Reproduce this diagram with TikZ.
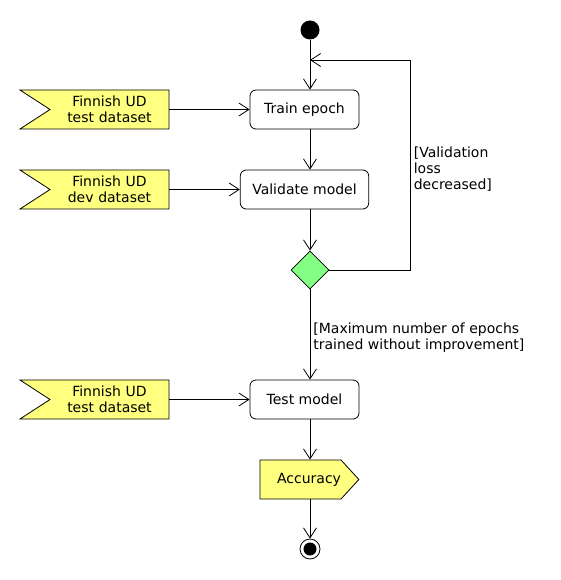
\documentclass[tikz,border=0pt]{standalone}
\usepackage{fontspec}
\setmainfont{DejaVu Sans}
\usepackage{xcolor}
\usepackage{tikz}
\usetikzlibrary{shapes.geometric, shapes.symbols, arrows.meta, positioning}

\definecolor{notefill}{HTML}{FFFF80}
\definecolor{choicefill}{HTML}{84FF84}

\begin{document}
\begin{tikzpicture}[
    x=1pt, y=-1pt,
    line width=0.8pt,
    every node/.style={font=\fontsize{14}{16}\selectfont},
    activity/.style={rectangle, rounded corners=6pt, draw, fill=white, minimum width=109pt, minimum height=39pt, inner xsep=12pt, inner ysep=0pt},
    datain/.style={signal, signal from=west, signal to=nowhere, signal pointer angle=66, draw, fill=notefill, text width=119pt, inner xsep=0pt, inner ysep=0pt, minimum height=39pt, align=center},
    dataout/.style={signal, signal to=east, signal from=nowhere, signal pointer angle=95, draw, fill=notefill, text width=81pt, inner xsep=0pt, inner ysep=0pt, minimum height=39pt, align=right},
    decision/.style={diamond, draw, fill=choicefill, minimum size=38pt, inner sep=0pt},
    startdot/.style={circle, fill=black, minimum size=19pt, inner sep=0pt},
    enddot/.style={circle, draw, fill=white, minimum size=20pt, inner sep=0pt, path picture={\fill[black] (path picture bounding box.center) circle (6.5pt);}},
    guard/.style={align=left, inner sep=3pt},
    arrow/.style={-{Straight Barb[length=10pt, width=13pt]}},
]
\useasboundingbox (0,0) rectangle (560,580);

\node[startdot] (start) at (310,30) {};
\coordinate (merge) at (310,60);
\node[activity] (train) at (304.5,109.5) {Train epoch};
\node[activity] (validate) at (304.5,189.5) {Validate model};
\node[decision] (check) at (310,270) {};
\node[activity] (test) at (304.5,399.5) {Test model};
\node[dataout] (accuracy) at (300.5,479.5) {Accuracy};
\node[enddot] (stop) at (310,549) {};

\node[datain] (traindata) at (109.5,109.5) {Finnish UD\\test dataset};
\node[datain] (devdata) at (109.5,189.5) {Finnish UD\\dev dataset};
\node[datain] (testdata) at (109.5,399.5) {Finnish UD\\test dataset};

\draw[arrow] (start) -- (train.north -| start);
\draw[arrow] (train.south -| start) -- (validate.north -| start);
\draw[arrow] (validate.south -| check) -- (check.north);
\draw[arrow] (check.east) -- ++(81,0) |- node[guard, pos=0.24, right] {[Validation\\loss\\decreased]} (merge);
\draw[arrow] (check.south) -- node[guard, right, yshift=-3pt] {[Maximum number of epochs\\trained without improvement]} (test.north -| check);
\draw[arrow] (test.south -| check) -- (accuracy.north -| check);
\draw[arrow] (accuracy.south -| check) -- (stop);

\draw[arrow] (traindata.east) -- (train.west);
\draw[arrow] (devdata.east) -- (validate.west);
\draw[arrow] (testdata.east) -- (test.west);

\end{tikzpicture}
\end{document}
